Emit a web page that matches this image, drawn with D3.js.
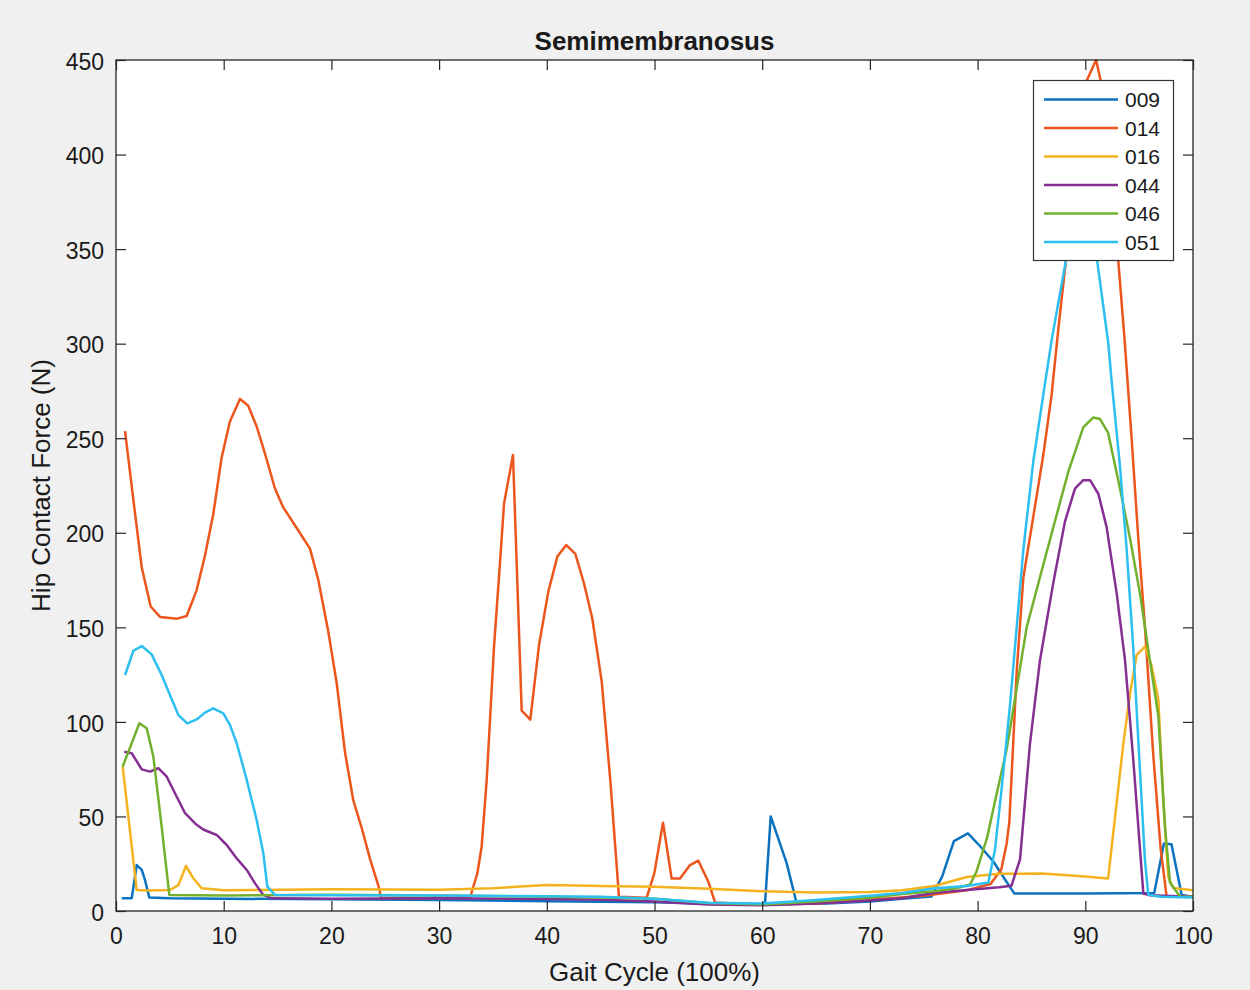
<!DOCTYPE html>
<html>
<head>
<meta charset="utf-8">
<script src="https://cdn.jsdelivr.net/npm/d3@7"></script>
<style>
  html, body { margin: 0; padding: 0; background: #f0f0f0; }
  svg { display: block; }
  text { font-family: "Liberation Sans", Arial, Helvetica, sans-serif; fill: #1a1a1a; }
</style>
</head>
<body>
<svg id="chart" width="1250" height="990"></svg>
<script>
// ---------------- data ----------------
const title = "Semimembranosus";
const xLabel = "Gait Cycle (100%)";
const yLabel = "Hip Contact Force (N)";
const xTicks = [0, 10, 20, 30, 40, 50, 60, 70, 80, 90, 100];
const yTicks = [0, 50, 100, 150, 200, 250, 300, 350, 400, 450];
const subjects = ["009", "014", "016", "044", "046", "051"];
const colors = ["#0b72bf", "#ec561c", "#f3b21f", "#862f93", "#72b02e", "#2cbff0"];

const s009 = [[0.53,6.7],[1.46,6.7],[1.92,24.3],[2.39,21.7],[2.69,16.4],[3.09,7.2],[5,6.8],[10,6.5],[20,6.2],[30,5.8],[40,5.2],[50,4.6],[55,3.8],[60.26,3.5],[60.79,50],[62.27,25.3],[63.2,4],[66,4],[70,5],[73,6.5],[75.7,7.6],[76.7,18],[77.8,37],[79.1,41],[80.2,34.5],[81.46,26.2],[82.39,18],[83.4,9.3],[90,9.2],[96.4,9.5],[97.3,35.7],[98.0,35.3],[98.95,8.5],[100,7.5]];

const s014 = [[0.84,253.8],[1.6,218],[2.39,181.6],[3.22,161],[4.09,155.5],[5.69,154.6],[6.56,156],[7.49,169.7],[8.26,187.9],[9.03,209.8],[9.81,239.8],[10.58,258.9],[11.51,270.8],[12.28,267.2],[13.06,256.2],[13.84,241.7],[14.76,223.4],[15.53,213.4],[16.78,202.5],[18.01,191.6],[18.78,175.2],[19.71,147.8],[20.49,120.6],[21.26,84.1],[22.03,58.6],[22.81,44],[23.58,27.7],[24.45,11.7],[24.6,7],[28,6.8],[32.87,7],[33.55,19.9],[33.95,34],[34.42,69.3],[35.1,139.8],[35.65,183.8],[36.03,215.5],[36.86,241.1],[37.67,105.9],[38.47,101.2],[39.28,140.7],[40.14,168.9],[40.98,187.4],[41.81,193.5],[42.65,188.8],[43.45,173.3],[44.22,154.8],[45.1,121.3],[45.92,67.5],[46.7,7.6],[49.27,7],[49.98,19.9],[50.79,46.7],[51.59,17.2],[52.37,17.2],[53.3,24.3],[54.07,26.6],[55,15.5],[55.62,4.5],[60,3.2],[65,4],[70,6],[75,8],[79,11],[81.2,14.3],[82.2,22],[82.7,35.7],[82.95,47.3],[83.63,126.6],[84.25,176.5],[85.18,208.8],[86.1,241.1],[86.88,273.4],[87.5,308],[88.2,344],[89.2,393],[90.13,439],[91,450],[91.43,439],[92.4,390],[93.06,344],[93.65,302],[94.3,249.9],[94.92,197.1],[95.54,150.1],[96.31,82.6],[97,32.7],[97.55,7.7],[100,7.5]];

const s016 = [[0.62,76.3],[1.92,11.1],[3,10.8],[5.01,11.1],[5.79,13.7],[6.5,23.8],[7.18,17.3],[7.95,12],[10,11],[20,11.5],[30,11.2],[35,12],[40,13.8],[45,13.2],[50,12.8],[55,11.8],[60,10.5],[65,9.8],[70,10],[73,11],[76,13.2],[79,18],[82,19.7],[86,19.8],[90,18.3],[92.12,17.2],[93.53,88.4],[94.15,114.9],[94.77,135.4],[95.54,139.8],[96.16,129.6],[96.78,111.9],[97.24,59.1],[97.7,18],[98.17,12.1],[100,11]];

const s044 = [[0.77,84.2],[1.46,83.4],[2.39,74.9],[3.16,73.7],[3.93,75.5],[4.71,71],[5.64,60.4],[6.41,51.7],[7.34,46.3],[8.1,43.1],[9.35,40.2],[10.28,34.9],[11.21,27.8],[12.14,21.7],[12.91,14.6],[13.68,8.5],[14.46,6.7],[20,6.5],[30,6.7],[40,6.3],[45,6],[50,5],[55,3.5],[60,3],[65,4],[70,5.5],[73,6.7],[76,9.7],[79,11.1],[82,12.5],[83.15,13.4],[83.94,27.3],[84.86,88.4],[85.79,132.5],[87.03,173.6],[88.11,205.9],[89.04,223.4],[89.81,227.8],[90.44,227.8],[91.22,220.5],[91.98,202.9],[92.92,167.7],[93.69,132.5],[94.46,79.6],[95.08,32.7],[95.39,9.2],[96,8.3],[100,7.5]];

const s046 = [[0.62,76.3],[2.17,99.3],[2.85,96.6],[3.47,81.6],[4.24,44.6],[4.95,8.5],[10,8.2],[20,8.6],[30,8.2],[40,7.6],[45,7.2],[50,6.5],[55,4.2],[60,3.5],[65,5],[70,7],[73,9],[76,10.5],[78,12],[79.3,14],[79.9,20.9],[80.87,38.5],[81.77,62],[82.7,85.5],[83.63,117.8],[84.56,150.1],[85.79,176.5],[87.03,202.9],[88.42,232.2],[89.81,255.7],[90.74,261],[91.36,260.2],[92.12,252.8],[93.22,223.4],[94.15,197.1],[95.08,167.7],[96,132.5],[96.78,103.1],[97.4,44.4],[97.86,15.1],[98.79,7.7],[100,7.5]];

const s051 = [[0.84,124.8],[1.61,137.6],[2.39,140.1],[3.31,135.7],[4.24,124.8],[5.01,114.2],[5.79,103.6],[6.62,99.2],[7.49,101.3],[8.26,104.9],[9.03,107.2],[9.96,104.5],[10.58,98.4],[11.21,88.7],[12.14,69.3],[13.06,48.1],[13.68,30.5],[14.05,12.9],[14.76,8.5],[20,8.3],[30,8.2],[40,7.8],[45,7.5],[50,6.5],[55,4.3],[60,4],[65,5.8],[70,8],[73,9.5],[76,12],[79,13.2],[81,15.1],[81.62,32.7],[82.24,65],[83.01,109],[83.63,150.1],[84.25,191.2],[85.18,238.1],[85.95,267.4],[86.88,302],[88.2,344],[89.3,378],[90.2,380],[91.1,344],[92.14,300],[92.46,279.2],[93.22,235.2],[93.84,191.2],[94.46,138.4],[95.08,73.8],[95.54,26.8],[95.85,8.6],[97,7.5],[100,7.2]];

const seriesValues = [s009, s014, s016, s044, s046, s051];

// ---------------- layout ----------------
const L = 116, R = 1193, T = 60, B = 911;
const svg = d3.select("#chart");
svg.append("rect").attr("width", 1250).attr("height", 990).attr("fill", "#f0f0f0");

const x = d3.scaleLinear().domain([0, 100]).range([L, R]);
const y = d3.scaleLinear().domain([0, 450]).range([B, T]);

svg.append("rect").attr("x", L).attr("y", T).attr("width", R - L).attr("height", B - T).attr("fill", "#ffffff");

svg.append("defs").append("clipPath").attr("id", "clip")
  .append("rect").attr("x", L).attr("y", T - 1).attr("width", R - L).attr("height", B - T + 1);

const line = d3.line().x(d => x(d[0])).y(d => y(d[1]));
const gLines = svg.append("g").attr("clip-path", "url(#clip)");
seriesValues.forEach((s, i) => {
  gLines.append("path").attr("d", line(s)).attr("fill", "none")
    .attr("stroke", colors[i]).attr("stroke-width", 2.5).attr("stroke-linejoin", "round");
});

// axes (ticks inward on all four sides)
const axisColor = "#262626";
const tl = 10;
const gx = svg.append("g").attr("transform", `translate(0,${B})`)
  .call(d3.axisBottom(x).tickValues(xTicks).tickSizeInner(-tl).tickSizeOuter(0).tickPadding(17));
const gxt = svg.append("g").attr("transform", `translate(0,${T})`)
  .call(d3.axisTop(x).tickValues(xTicks).tickSizeInner(-tl).tickSizeOuter(0).tickFormat(""));
const gy = svg.append("g").attr("transform", `translate(${L},0)`)
  .call(d3.axisLeft(y).tickValues(yTicks).tickSizeInner(-tl).tickSizeOuter(0).tickPadding(12));
const gyr = svg.append("g").attr("transform", `translate(${R},0)`)
  .call(d3.axisRight(y).tickValues(yTicks).tickSizeInner(-tl).tickSizeOuter(0).tickFormat(""));
[gx, gxt, gy, gyr].forEach(g => {
  g.select(".domain").remove();
  g.selectAll(".tick line").attr("stroke", axisColor).attr("stroke-width", 1.2);
  g.selectAll(".tick text").attr("fill", "#262626").style("font-size", "23px")
    .style("font-family", "'Liberation Sans', Arial, sans-serif");
});
gy.selectAll(".tick text").attr("dy", "0.4em");
svg.append("rect").attr("x", L).attr("y", T).attr("width", R - L).attr("height", B - T)
  .attr("fill", "none").attr("stroke", axisColor).attr("stroke-width", 1.3);

// titles
svg.append("text").attr("x", (L + R) / 2).attr("y", 50).attr("text-anchor", "middle")
  .style("font-size", "26px").style("font-weight", "bold").attr("fill", "#000").text(title);
svg.append("text").attr("x", (L + R) / 2).attr("y", 981).attr("text-anchor", "middle")
  .style("font-size", "26px").attr("fill", "#262626").text(xLabel);
svg.append("text").attr("transform", `translate(50,${(T + B) / 2}) rotate(-90)`)
  .attr("text-anchor", "middle").style("font-size", "26px").attr("fill", "#262626").text(yLabel);

// legend
const lg = svg.append("g");
lg.append("rect").attr("x", 1033.5).attr("y", 80.5).attr("width", 140).attr("height", 180)
  .attr("fill", "#ffffff").attr("stroke", "#333333").attr("stroke-width", 1.2);
subjects.forEach((name, i) => {
  const cy = 99.5 + i * 28.5;
  lg.append("line").attr("x1", 1044).attr("x2", 1118).attr("y1", cy).attr("y2", cy)
    .attr("stroke", colors[i]).attr("stroke-width", 2.5);
  lg.append("text").attr("x", 1125).attr("y", cy).attr("dy", "0.36em")
    .style("font-size", "21px").attr("fill", "#111").text(name);
});
</script>
</body>
</html>
